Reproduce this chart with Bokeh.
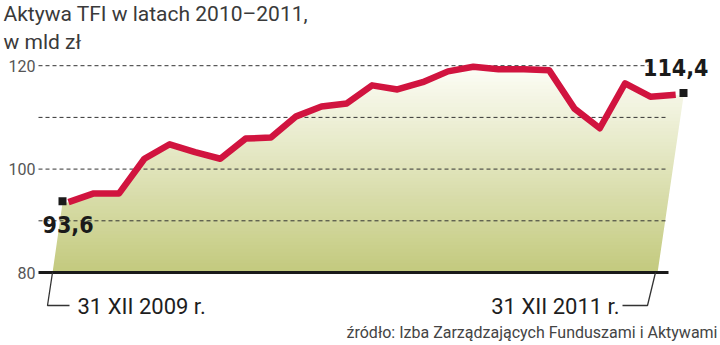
import numpy as np
from bokeh.plotting import figure
from bokeh.models import Range1d, Label, ColumnDataSource
from bokeh.core.properties import value
from bokeh.embed import file_html
from bokeh.resources import INLINE

# ---- data ----
months = list(range(25))  # XII 2009 ... XII 2011, monthly
assets = [93.6, 95.3, 95.3, 102.0, 104.8, 103.3, 102.0, 105.9, 106.1, 110.2,
          112.1, 112.7, 116.2, 115.4, 116.8, 118.9, 119.8, 119.3, 119.3, 119.1,
          111.7, 107.9, 116.6, 114.0, 114.4]
tick_values = [80, 100, 120]
tick_labels = ["80", "100", "120"]
grid_values = [90, 100, 110, 120]
title_1 = "Aktywa TFI w latach 2010–2011,"
title_2 = "w  mld zł"
first_label = "93,6"
last_label = "114,4"
start_label = "31 XII 2009 r."
end_label = "31 XII 2011 r."
source_label = "źródło: Izba Zarządzających Funduszami i Aktywami"

W, H = 720, 345
PX = 25.3          # pixels per month
X0 = 68            # pixel of first month
PY = 5.17          # pixels per unit
Y80 = 272          # pixel of value 80 (from top)

def xs(px):
    return (px - X0) / PX

def yv(py):
    return 80 + (Y80 - py) / PY

p = figure(width=W, height=H, output_backend="svg", toolbar_location=None,
           x_range=Range1d(xs(0), xs(W)), y_range=Range1d(yv(H), yv(0)),
           min_border=0, min_border_left=0, min_border_right=0,
           min_border_top=0, min_border_bottom=0)
p.axis.visible = False
p.grid.visible = False
p.outline_line_color = None
p.background_fill_color = "white"
p.border_fill_color = "white"

# ---- gradient area (nested quads, lightest/tallest first) ----
top_c = np.array([253, 253, 246])
bot_c = np.array([194, 201, 124])
nb = 60
tops = np.linspace(121, 80.5, nb)
cols = []
for t in tops:
    f = min(max((t - 80) / 40.0, 0), 1)
    c = bot_c + (top_c - bot_c) * f
    cols.append("#%02x%02x%02x" % tuple(int(round(v)) for v in c))
p.quad(left=xs(40), right=xs(700), bottom=[80] * nb, top=list(tops),
       fill_color=cols, line_color=None)

# white mask outside the area
left_top = (xs(62), assets[0] - 0.2)
right_top = (xs(683), assets[-1] - 0.3)
mx = [xs(-5), xs(-5), xs(52), left_top[0]] + months + \
     [right_top[0], xs(657), xs(W + 5), xs(W + 5)]
my = [yv(-5), 79.9, 79.9, left_top[1]] + assets + \
     [right_top[1], 79.9, 79.9, yv(-5)]
p.patch(mx, my, fill_color="white", line_color=None)

# ---- dashed grid lines ----
grid_right = {90: xs(667), 100: xs(667), 110: xs(667), 120: xs(648)}
p.segment(x0=[xs(38)] * len(grid_values), y0=grid_values,
          x1=[grid_right[g] for g in grid_values], y1=grid_values,
          line_color="#333333", line_width=1, line_dash="4 3")

# ---- baseline ----
p.segment(x0=[xs(38)], y0=[80], x1=[xs(668)], y1=[80],
          line_color="#1a1a1a", line_width=3)

# ---- leader lines ----
p.line([xs(52), xs(47), xs(69)], [80, yv(305), yv(305)],
       line_color="#333333", line_width=1.3)
p.line([xs(622), xs(647), xs(655)], [yv(305), yv(305), 80],
       line_color="#333333", line_width=1.3)

# ---- main line ----
p.line(months, assets, line_color="#d1143f", line_width=6.5,
       line_join="round", line_cap="butt")

# end markers
p.scatter([xs(62), xs(683)], [assets[0] + 0.2, assets[-1] + 0.3],
          marker="square", size=8, fill_color="#1a1a1a", line_color=None)

# ---- tick labels ----
tsrc = ColumnDataSource(dict(x=[xs(35)] * 3, y=tick_values, t=tick_labels))
p.text(x="x", y="y", text="t", source=tsrc, text_align="right",
       text_baseline="middle", text_font=value("Roboto"),
       text_font_size="16px", text_color="#555555")

# ---- value labels ----
p.text(x=[xs(42)], y=[yv(224)], text=[first_label], text_align="left",
       text_baseline="middle", text_font=value("DejaVu Sans Condensed"),
       text_font_style="bold", text_font_size="23px", text_color="#1a1a1a")
p.text(x=[xs(708)], y=[yv(67)], text=[last_label], text_align="right",
       text_baseline="middle", text_font=value("DejaVu Sans Condensed"),
       text_font_style="bold", text_font_size="23px", text_color="#1a1a1a")

# ---- date labels ----
p.text(x=[xs(77)], y=[yv(306)], text=[start_label], text_align="left",
       text_baseline="middle", text_font=value("Roboto"),
       text_font_size="22px", text_color="#1e1e1e")
p.text(x=[xs(619)], y=[yv(306)], text=[end_label], text_align="right",
       text_baseline="middle", text_font=value("Roboto"),
       text_font_size="22px", text_color="#1e1e1e")

# ---- titles / source ----
p.add_layout(Label(x=3, y=H - 13, x_units="screen", y_units="screen",
                   text=title_1, text_baseline="middle",
                   text_font="Roboto", text_font_size="21px",
                   text_color="#3a3a3a"))
p.add_layout(Label(x=3, y=H - 41, x_units="screen", y_units="screen",
                   text=title_2, text_baseline="middle",
                   text_font="Roboto", text_font_size="21px",
                   text_color="#3a3a3a"))
p.add_layout(Label(x=717, y=H - 332, x_units="screen", y_units="screen",
                   text=source_label, text_align="right",
                   text_baseline="middle",
                   text_font="Roboto", text_font_size="16px",
                   text_color="#444444"))

open("out.html", "w").write(file_html(p, INLINE))
